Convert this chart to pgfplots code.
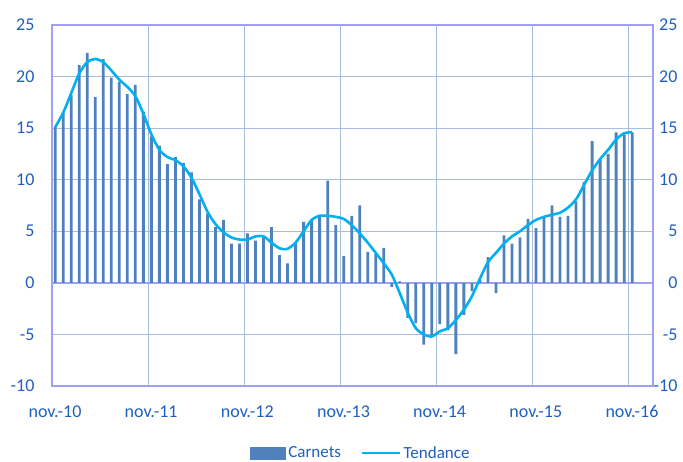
\documentclass[border=0pt]{standalone}
\usepackage{pgfplots}
\usepackage{pgfplotstable}
\pgfplotsset{compat=1.18}
\usepackage{fontspec}
\setmainfont{Carlito}
\definecolor{barblue}{RGB}{79,129,189}
\definecolor{trend}{RGB}{0,176,240}
\definecolor{gridc}{RGB}{168,188,222}
\definecolor{axisc}{RGB}{160,160,245}
\definecolor{labc}{RGB}{31,95,190}

\pgfplotstableread{
m v
0 15.1
1 16.5
2 18.2
3 21.1
4 22.3
5 18.0
6 21.7
7 19.9
8 19.5
9 18.3
10 19.2
11 16.6
12 14.2
13 13.3
14 11.5
15 12.2
16 11.6
17 10.7
18 8.1
19 6.7
20 5.4
21 6.1
22 3.8
23 3.8
24 4.8
25 4.1
26 4.4
27 5.4
28 2.7
29 1.9
30 3.9
31 5.9
32 6.1
33 6.6
34 9.9
35 5.6
36 2.6
37 6.5
38 7.5
39 3.0
40 2.8
41 3.4
42 -0.4
43 0.15
44 -3.4
45 -3.9
46 -6.0
47 -5.1
48 -4.0
49 -4.6
50 -6.9
51 -3.1
52 -0.8
53 0.3
54 2.5
55 -1.0
56 4.6
57 3.8
58 4.4
59 6.2
60 5.3
61 6.3
62 7.5
63 6.4
64 6.5
65 7.9
66 9.8
67 13.75
68 12.0
69 12.5
70 14.6
71 14.4
72 14.6
}\carnets

\pgfplotstableread{
m v
0 15.1
1 16.5
2 18.4
3 20.3
4 21.4
5 21.7
6 21.4
7 20.6
8 19.7
9 19.0
10 18.1
11 16.4
12 14.4
13 12.9
14 12.2
15 11.9
16 11.3
17 10.2
18 8.6
19 6.9
20 5.7
21 4.9
22 4.4
23 4.2
24 4.2
25 4.5
26 4.5
27 3.9
28 3.35
29 3.3
30 3.9
31 5.0
32 6.1
33 6.5
34 6.5
35 6.4
36 6.2
37 5.6
38 4.8
39 3.9
40 2.9
41 1.9
42 0.8
43 -1.0
44 -2.9
45 -4.4
46 -5.0
47 -5.2
48 -4.7
49 -4.4
50 -3.6
51 -2.6
52 -1.3
53 0.4
54 2.0
55 2.9
56 3.8
57 4.5
58 5.0
59 5.6
60 6.1
61 6.4
62 6.6
63 6.8
64 7.3
65 8.1
66 9.5
67 10.9
68 12.0
69 12.9
70 13.9
71 14.5
72 14.6
}\tendance

\begin{document}
\begin{tikzpicture}
\path[use as bounding box] (0,0) rectangle (683pt,462pt);
\begin{axis}[
  at={(52pt,76pt)}, anchor=south west,
  scale only axis, width=601pt, height=361pt,
  xmin=-0.4, xmax=74.6, ymin=-10, ymax=25,
  xtick={-0.4,11.6,23.6,35.6,47.6,59.6,71.6},
  xticklabels={nov.-10,nov.-11,nov.-12,nov.-13,nov.-14,nov.-15,nov.-16},
  ytick={-10,-5,0,5,10,15,20,25},
  /pgf/number format/assume math mode=true,
  grid=major,
  major grid style={gridc, line width=1pt},
  axis line style={axisc, line width=1.4pt},
  major tick length=0pt,
  tick label style={text=labc, font=\fontsize{18}{20}\selectfont},
  yticklabel style={xshift=-14pt},
  xticklabel style={yshift=-16pt, xshift=3pt},
  extra y ticks={0},
  extra y tick labels={},
  extra y tick style={grid=major, major grid style={axisc, line width=1.4pt}},
  legend style={at={(0.514,-0.186)}, anchor=center, draw=none, fill=none,
    legend columns=2, text=labc, font=\fontsize{17}{19}\selectfont,
    /tikz/every even column/.append style={column sep=18pt}},
]
\addplot[ybar, bar width=2.8pt, bar shift=0pt, fill=barblue, draw=none,
  legend image code/.code={\fill[barblue] (0pt,-6.5pt) rectangle (36pt,6.5pt);}]
  table[x=m, y=v] {\carnets};
\addlegendentry{Carnets}
\addplot[trend, line width=2.6pt, smooth, tension=0.45, no marks,
  legend image code/.code={\draw[trend, line width=2.6pt] (0pt,0pt) -- (38pt,0pt);}]
  table[x=m, y=v] {\tendance};
\addlegendentry{Tendance}
\end{axis}
\begin{axis}[
  at={(52pt,76pt)}, anchor=south west,
  scale only axis, width=601pt, height=361pt,
  xmin=-0.4, xmax=74.6, ymin=-10, ymax=25,
  hide x axis,
  axis y line*=right,
  ytick={-10,-5,0,5,10,15,20,25},
  /pgf/number format/assume math mode=true,
  axis line style={axisc, line width=1.4pt},
  major tick length=0pt,
  tick label style={text=labc, font=\fontsize{18}{20}\selectfont},
  yticklabel style={anchor=east, xshift=28pt},
]
\addplot[draw=none] coordinates {(0,0)};
\end{axis}
\end{tikzpicture}
\end{document}
